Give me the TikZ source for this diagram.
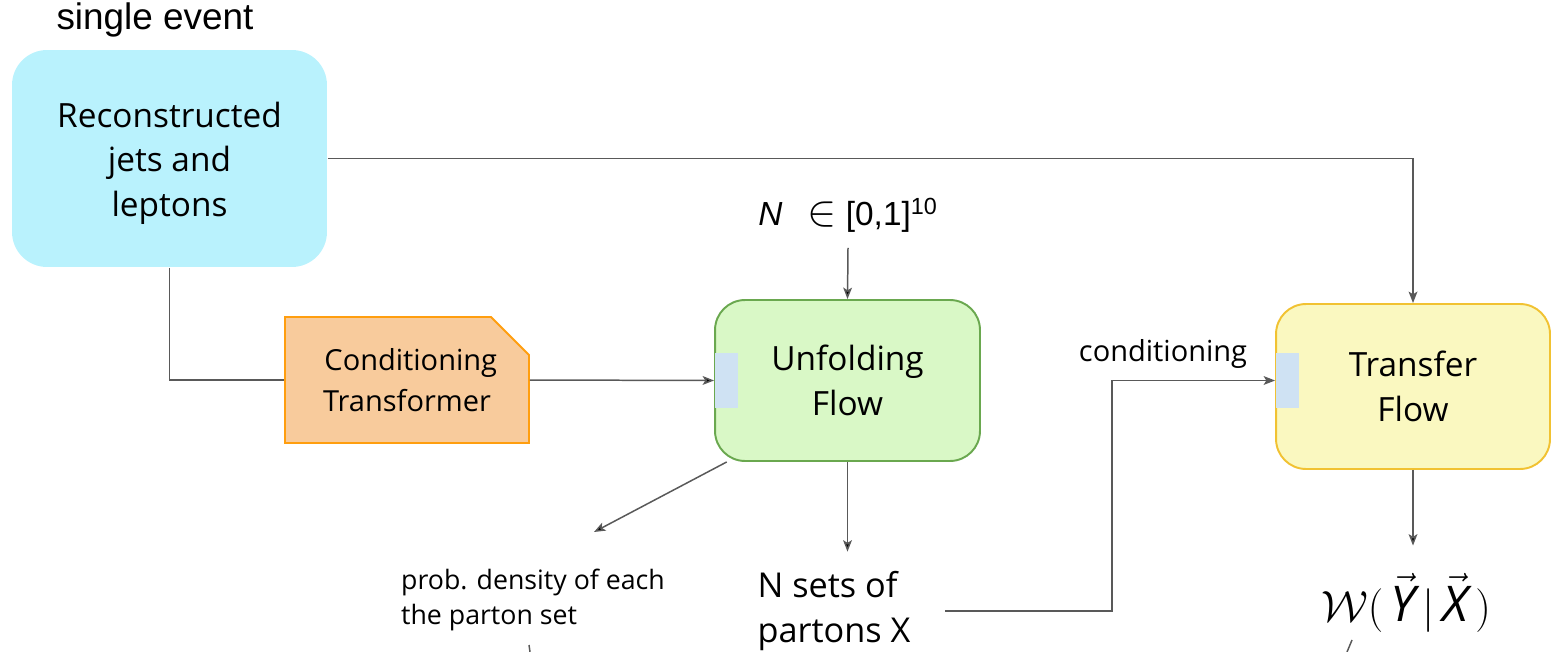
\documentclass[tikz,border=0pt]{standalone}
\usepackage{amsmath}
\usepackage{amssymb}
\usepackage{fontspec}
\setmainfont{Open Sans}
\newfontfamily\arialfont{Liberation Sans}
\usetikzlibrary{arrows.meta,shapes.misc}
\usetikzlibrary{positioning}
\definecolor{recoblue}{HTML}{B9F2FD}
\definecolor{ctfill}{HTML}{F8CB9C}
\definecolor{ctline}{HTML}{FF9E0F}
\definecolor{unffill}{HTML}{D9F8C6}
\definecolor{unfline}{HTML}{6AA84F}
\definecolor{trfill}{HTML}{FAF8C0}
\definecolor{trline}{HTML}{F1C232}
\definecolor{portblue}{HTML}{CFE2F3}
\definecolor{wiregray}{HTML}{595959}

\begin{document}
\begin{tikzpicture}[x=0.02cm,y=-0.02cm,>={Stealth[length=6.5pt,width=5pt,inset=1.5pt]},line width=0.85pt]
	\useasboundingbox (0,0) rectangle (1551,652);
	\tikzset{box/.style={rounded corners=0.6cm,minimum width=5.3cm,minimum height=3.22cm,align=center,font=\fontsize{19}{25.5}\selectfont,line width=1.1pt}}
	\tikzset{port/.style={fill=portblue,minimum width=0.46cm,minimum height=1.1cm,inner sep=0pt}}
	\tikzset{wire/.style={draw=wiregray,line width=0.85pt}}
	\tikzset{lbl/.style={inner sep=0pt,align=left}}
	\node[lbl,font=\arialfont\fontsize{21}{24}\selectfont] (E) at (155,20) {single event};
	\node[box,fill=recoblue,minimum width=6.3cm,minimum height=4.34cm,rounded corners=0.7cm] (R) at (169.5,158.5) {\\[-0.2cm]Reconstructed\\jets and\\leptons};
	\node[chamfered rectangle,chamfered rectangle corners=north east,chamfered rectangle sep=0.38cm,
	      draw=ctline,fill=ctfill,line width=1.1pt,minimum width=4.88cm,minimum height=2.52cm,align=center,
	      font=\fontsize{16.5}{23}\selectfont] (C) at (407,380) {\hspace{0.15cm}Conditioning\\Transformer};
	\node[box,draw=unfline,fill=unffill] (U) at (847.5,380.5) {Unfolding\\Flow};
	\node[box,draw=trline,fill=trfill,minimum width=5.48cm,minimum height=3.3cm] (T) at (1413,386.5) {Transfer\\Flow};
	\node[port,anchor=west] (Up) at (U.west) {};
	\node[port,anchor=west] (Tp) at ([yshift=0.12cm]T.west) {};
	\node[lbl,inner ysep=0.3cm,font=\arialfont\fontsize{19}{22}\selectfont] (N) at (848,215) {\textit{N}\hspace{0.75em}{\fontsize{23}{23}\selectfont$\in$} [0,1]\textsuperscript{10}};
	\node[lbl,font=\fontsize{15.2}{20}\selectfont] (P) at (533,600) {prob. density of each\\the parton set};
	\node[lbl,inner xsep=0.68cm,inner ysep=0.38cm,font=\fontsize{19.5}{25.5}\selectfont] (S) at (834,611) {N sets of\\partons X};
	\node[lbl,font=\fontsize{16.5}{20}\selectfont] (K) at (1163,354) {conditioning};
	\node[lbl,inner ysep=0.55cm,font=\fontsize{28}{30}\selectfont] (W) at (1406,603) {$\mathcal{W}(\,\vec{\textit{Y}}\,|\,\vec{\textit{X}}\,)$};
	\coordinate (Ptip) at (594,532);
	\coordinate (J) at (1112,500);
	\draw[wire,->] (R.east) -| (T.north);
	\draw[wire] (R.south) |- (C.west);
	\path[wire]
	(C.east)  edge [->] (U.west)
	(N.south) edge [->] (U.north)
	(U.214)   edge [->] (Ptip)
	(U.south) edge [->] (U.south |- S.north)
	(T.south) edge [->] (T.south |- W.north);
	\draw[wire,->] (S.east) -| (J) |- (Tp.west);
	% cut-off ends at the lower border
	\draw[wire] (529,645) -- (530,652);
	\draw[wire] (1352,640) -- (1347,652);
\end{tikzpicture}
\end{document}
